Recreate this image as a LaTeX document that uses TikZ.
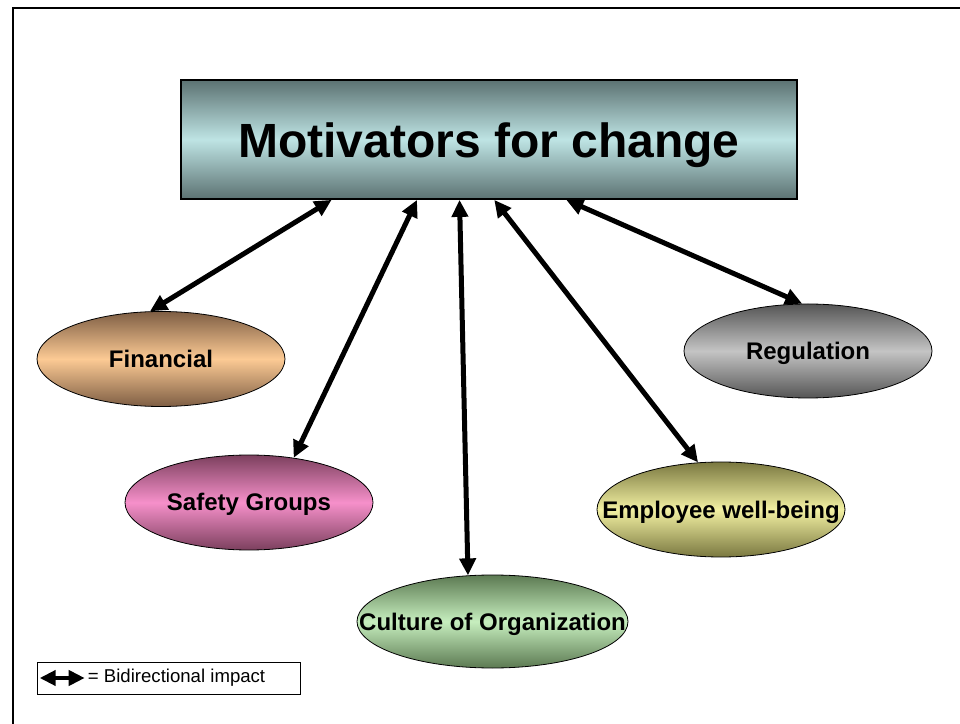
\documentclass[tikz,border=0pt]{standalone}
\usepackage{fontspec}
\setmainfont{Liberation Sans}
\usetikzlibrary{arrows.meta,shapes.geometric,positioning}

\definecolor{boxdark}{HTML}{5C7272}
\definecolor{boxlight}{HTML}{BEE4E4}
\definecolor{findark}{HTML}{7E5E44}
\definecolor{finlight}{HTML}{FCCA94}
\definecolor{safedark}{HTML}{7C405E}
\definecolor{safelight}{HTML}{F690CA}
\definecolor{cultdark}{HTML}{5C7A52}
\definecolor{cultlight}{HTML}{C6EEBE}
\definecolor{empdark}{HTML}{7A7840}
\definecolor{emplight}{HTML}{F2F0A2}
\definecolor{regdark}{HTML}{555555}
\definecolor{reglight}{HTML}{C4C4C4}

% text that does not widen its ellipse, baseline below the centre
\newcommand{\motext}[1]{\raisebox{-8.5pt}[0pt][0pt]{\makebox[0pt]{#1}}}

\tikzset{
  motive/.style={ellipse, draw, line width=0.8pt, minimum width=248, minimum height=95,
    inner sep=0pt, font=\fontsize{24}{26}\selectfont\bfseries},
  impact/.style={{Triangle[length=17pt,width=16pt]}-{Triangle[length=17pt,width=16pt]}, line width=5pt}
}

\begin{document}
\begin{tikzpicture}[x=1pt,y=1pt]
\useasboundingbox (0,0) rectangle (960,723);
% frame of the slide
\draw[line width=2pt] (13,-5) -- (13,715) -- (970,715);

% heading
\node[draw, line width=1.8pt, minimum width=616, minimum height=119, inner sep=0pt,
  top color=boxdark, bottom color=boxdark, middle color=boxlight,
  font=\fontsize{48}{52}\selectfont\bfseries] (main) at (489,583.5)
  {\raisebox{-18pt}[0pt][0pt]{\makebox[0pt]{Motivators for change}}};

% the motivators
\node[motive, top color=findark, bottom color=findark, middle color=finlight] (fin) at (161,364) {\motext{Financial}};
\node[motive, top color=safedark, bottom color=safedark, middle color=safelight] (safe) at (249,220.5) {\motext{Safety Groups}};
\node[motive, minimum width=271, minimum height=93, top color=cultdark, bottom color=cultdark, middle color=cultlight] (cult) at (492.5,101.5) {\motext{Culture of Organization}};
\node[motive, top color=empdark, bottom color=empdark, middle color=emplight] (emp) at (721,213.5) {\motext{Employee well-being}};
\node[motive, minimum height=94, top color=regdark, bottom color=regdark, middle color=reglight] (reg) at (808,372) {\motext{Regulation}};

% links
\draw[impact] (main.201.8) -- (fin.103);
\draw[impact] (main.220.8) -- (safe.45);
\draw[impact] (main.244) -- (cult.118);
\draw[impact] (main.275.8) -- (emp.116);
\draw[impact] (main.322.3) -- (reg.97);

% legend
\node[draw, line width=0.6pt, minimum width=263, minimum height=32, inner sep=0pt] (key) at (168.5,45) {};
\coordinate (keyA) at ([xshift=3]key.west);
\coordinate (keyB) at ([xshift=48]key.west);
\draw[{Triangle[length=16pt,width=15pt]}-{Triangle[length=16pt,width=15pt]}, line width=4.5pt] (keyA) -- (keyB);
\node[right=3pt of keyB, inner sep=0pt, font=\fontsize{18.6}{20}\selectfont] (keytext) {= Bidirectional impact};
\end{tikzpicture}
\end{document}
